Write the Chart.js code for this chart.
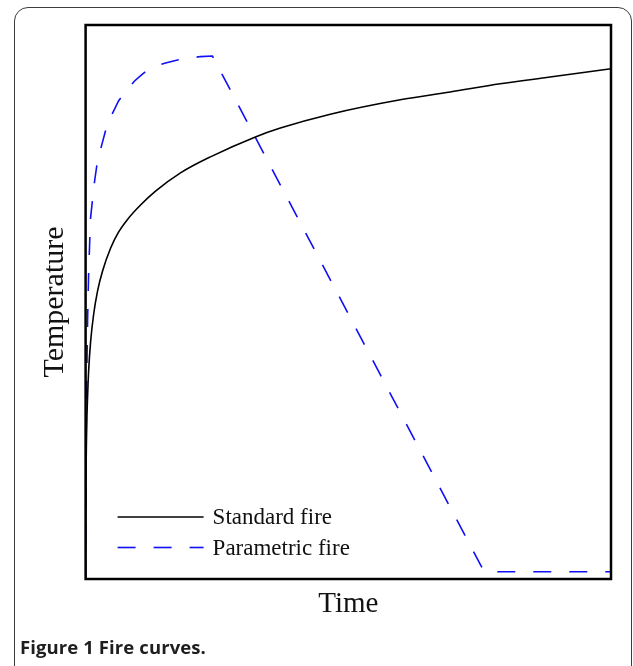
<!DOCTYPE html>
<html>
<head>
<meta charset="utf-8">
<script src="https://cdn.jsdelivr.net/npm/chart.js@4/dist/chart.umd.min.js"></script>
<style>
  html, body { margin: 0; padding: 0; background: #fff; }
  #wrap { position: relative; width: 633px; height: 666px; overflow: hidden; }
  #frame {
    position: absolute; left: 14px; top: 7px; width: 618px; height: 690px;
    border: 1.5px solid #3c3c3c; border-radius: 14px; box-sizing: border-box;
  }
  #chart { position: absolute; left: 0; top: 0; }
  #caption {
    position: absolute; left: 20px; top: 634px;
    font-family: "Open Sans", sans-serif; font-weight: 700; font-size: 18.5px;
    color: #1e1e1e; letter-spacing: 0.1px;
  }
</style>
</head>
<body>
<div id="wrap">
  <div id="frame"></div>
  <canvas id="chart" width="633" height="666"></canvas>
  <div id="caption">Figure 1 Fire curves.</div>
</div>
<script>
// Standard (ISO-type) fire curve, time vs temperature in relative units
const standardTime = [0, 0.05, 0.19, 0.38, 0.57, 0.95, 1.52, 2.28, 3.23, 4.75, 6.27, 7.98, 10.46, 13.31, 18.06, 23.76, 32.32, 37.07, 46.58, 59.89, 69.39, 78.90, 88.40, 100];
const standardTemp = [0, 14, 26.4, 33, 37.4, 42.8, 47.7, 52.0, 55.6, 59.7, 62.6, 64.9, 67.5, 70.0, 73.3, 76.2, 79.8, 81.4, 83.9, 86.5, 87.9, 89.4, 90.6, 92.1];

// Parametric fire: heating phase, linear cooling, then ambient plateau
const parametricTime = [0, 0.06, 0.19, 0.38, 0.57, 0.76, 0.95, 1.33, 1.71, 2.28, 3.23, 3.99, 4.75, 5.51, 6.27, 7.22, 8.17, 9.32, 10.65, 11.98, 13.69, 15.40, 17.11, 18.63, 20.34, 21.86, 24.14, 75.86, 100];
const parametricTemp = [0, 19.7, 34.1, 46.8, 54.9, 60.3, 65.2, 68.6, 71.8, 75.6, 78.9, 81.6, 83.4, 84.8, 86.3, 87.5, 88.6, 89.9, 91.0, 92.0, 92.7, 93.2, 93.6, 93.9, 94.1, 94.3, 94.4, 1.3, 1.3];

const seriesNames = ['Standard fire', 'Parametric fire'];
const axisTitles = { x: 'Time', y: 'Temperature' };

const toPoints = (xs, ys) => xs.map((x, i) => ({ x: x, y: ys[i] }));

// Box around the plot area (top and right sides included)
const plotBox = {
  id: 'plotBox',
  afterDraw(chart) {
    const { ctx, chartArea: a } = chart;
    ctx.save();
    ctx.strokeStyle = '#000';
    ctx.lineWidth = 2.5;
    ctx.strokeRect(a.left, a.top, a.right - a.left, a.bottom - a.top);
    ctx.restore();
  }
};

// Legend placed inside the lower-left corner of the plot
const innerLegend = {
  id: 'innerLegend',
  afterDraw(chart) {
    const { ctx, chartArea: a } = chart;
    ctx.save();
    ctx.font = '23px "Liberation Serif", "Times New Roman", serif';
    ctx.textBaseline = 'middle';
    chart.data.datasets.forEach((ds, i) => {
      const y = a.bottom - 62 + i * 30.5;
      const x0 = a.left + 32, x1 = a.left + 118;
      ctx.strokeStyle = ds.borderColor;
      ctx.lineWidth = ds.borderWidth;
      ctx.setLineDash(ds.borderDash || []);
      ctx.beginPath();
      ctx.moveTo(x0, y);
      ctx.lineTo(x1, y);
      ctx.stroke();
      ctx.setLineDash([]);
      ctx.fillStyle = '#111';
      ctx.fillText(ds.label, a.left + 127, y + 1);
    });
    ctx.restore();
  }
};

new Chart(document.getElementById('chart'), {
  type: 'line',
  data: {
    datasets: [
      {
        label: seriesNames[0],
        data: toPoints(standardTime, standardTemp),
        borderColor: '#000000',
        borderWidth: 1.6,
        pointRadius: 0,
        fill: false,
        cubicInterpolationMode: 'monotone'
      },
      {
        label: seriesNames[1],
        data: toPoints(parametricTime, parametricTemp),
        borderColor: '#1010f5',
        borderWidth: 1.6,
        borderDash: [18, 18],
        pointRadius: 0,
        fill: false,
        tension: 0
      }
    ]
  },
  options: {
    responsive: false,
    animation: false,
    events: [],
    layout: { padding: { left: 37.6, right: 22, top: 25, bottom: 44.2 } },
    plugins: { legend: { display: false }, tooltip: { enabled: false } },
    scales: {
      x: {
        type: 'linear', min: 0, max: 100,
        grid: { display: false, drawTicks: false },
        border: { display: false },
        ticks: { display: false },
        title: {
          display: true, text: axisTitles.x, color: '#111',
          font: { family: '"Liberation Serif", "Times New Roman", serif', size: 29 },
          padding: { top: 8, bottom: 0 }
        }
      },
      y: {
        type: 'linear', min: 0, max: 100,
        grid: { display: false, drawTicks: false },
        border: { display: false },
        ticks: { display: false },
        title: {
          display: true, text: axisTitles.y, color: '#111',
          font: { family: '"Liberation Serif", "Times New Roman", serif', size: 30 },
          padding: { top: 0, bottom: 12 }
        }
      }
    }
  },
  plugins: [plotBox, innerLegend]
});
</script>
</body>
</html>
